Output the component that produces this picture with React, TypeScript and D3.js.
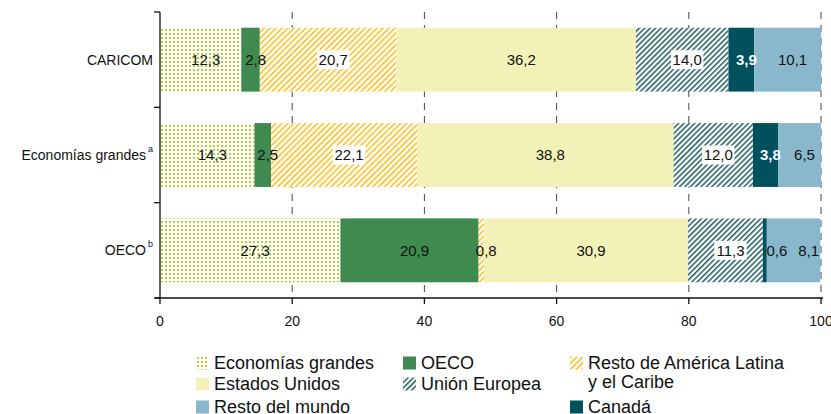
import React from "react";
import * as d3 from "d3";

const categories = ["CARICOM", "Economías grandes", "OECO"];
const categorySup = ["", "a", "b"];
const seriesNames = [
  "Economías grandes",
  "OECO",
  "Resto de América Latina y el Caribe",
  "Estados Unidos",
  "Unión Europea",
  "Canadá",
  "Resto del mundo",
];
const caricomValues = [12.3, 2.8, 20.7, 36.2, 14.0, 3.9, 10.1];
const grandesValues = [14.3, 2.5, 22.1, 38.8, 12.0, 3.8, 6.5];
const oecoValues = [27.3, 20.9, 0.8, 30.9, 11.3, 0.6, 8.1];
const xTicks = [0, 20, 40, 60, 80, 100];

const W = 831;
const H = 414;

const fills = [
  "url(#dots)",
  "#3e8a4f",
  "url(#yellowStripes)",
  "#f2f2b8",
  "url(#tealStripes)",
  "#00505e",
  "#89b8cc",
];
const boxed = [false, false, true, false, true, false, false];

export default function App() {
  const rows = [caricomValues, grandesValues, oecoValues];
  const x = d3.scaleLinear().domain([0, 100]).range([160, 821]);
  const y = d3
    .scaleBand<string>()
    .domain(categories)
    .range([12, 298])
    .paddingInner(0.33)
    .paddingOuter(0.165);
  const bw = y.bandwidth();
  const font = "'Liberation Sans', Arial, sans-serif";

  const legendItems = [
    { s: 0, x: 196, y: 363, lines: ["Economías grandes"] },
    { s: 1, x: 403, y: 363, lines: ["OECO"] },
    { s: 2, x: 570, y: 363, lines: ["Resto de América Latina", "y el Caribe"] },
    { s: 3, x: 196, y: 384, lines: ["Estados Unidos"] },
    { s: 4, x: 403, y: 384, lines: ["Unión Europea"] },
    { s: 6, x: 196, y: 407, lines: ["Resto del mundo"] },
    { s: 5, x: 570, y: 407, lines: ["Canadá"] },
  ];

  const extraDx = (ri: number, si: number) => {
    if (ri === 2 && si === 5) return 7;
    if (ri === 2 && si === 6) return 10;
    return 0;
  };

  const bandEdges = [12, ...categories.map((c) => (y(c) as number) + bw + (y.step() - bw) / 2)];

  return (
    <svg width={W} height={H} style={{ position: "absolute", left: 0, top: 0, fontFamily: font }}>
      <defs>
        <pattern id="dots" width={4} height={4} patternUnits="userSpaceOnUse">
          <rect width={4} height={4} fill="#fff" />
          <rect x={1} y={1} width={2} height={2} fill="#b2d12e" />
        </pattern>
        <pattern id="yellowStripes" width={4.2} height={4.2} patternUnits="userSpaceOnUse" patternTransform="rotate(45)">
          <rect width={4.2} height={4.2} fill="#fff" />
          <rect x={0} y={0} width={1.8} height={4.2} fill="#fcc73a" />
        </pattern>
        <pattern id="tealStripes" width={3.8} height={3.8} patternUnits="userSpaceOnUse" patternTransform="rotate(45)">
          <rect width={3.8} height={3.8} fill="#fff" />
          <rect x={0} y={0} width={1.5} height={3.8} fill="#1d5c5c" />
        </pattern>
      </defs>

      {/* gridlines */}
      {xTicks.slice(1).map((t) => (
        <line key={t} x1={x(t)} x2={x(t)} y1={12} y2={298} stroke="#444" strokeWidth={1} strokeDasharray="7,6" />
      ))}

      {/* bars */}
      {rows.map((vals, ri) => {
        const cat = categories[ri];
        const y0 = y(cat) as number;
        let cum = 0;
        return (
          <g key={cat}>
            {vals.map((v, si) => {
              const start = cum;
              cum += v;
              return (
                <rect key={si} x={x(start)} y={y0} width={x(start + v) - x(start)} height={bw} fill={fills[si]} />
              );
            })}
          </g>
        );
      })}

      {/* labels */}
      {rows.map((vals, ri) => {
        const cat = categories[ri];
        const cy = (y(cat) as number) + bw / 2;
        let cum = 0;
        return (
          <g key={cat + "l"}>
            {vals.map((v, si) => {
              const start = cum;
              cum += v;
              const cx = x(start + v / 2) + 5 + extraDx(ri, si);
              const txt = d3.format(".1f")(v).replace(".", ",");
              const tw = txt.length * 8.1 - 2;
              const segW = x(start + v) - x(start);
              const showBox = boxed[si] && segW > tw + 4;
              const white = si === 5 && v > 2;
              return (
                <g key={si}>
                  {showBox && <rect x={cx - tw / 2 - 1} y={cy - 9.5} width={tw + 2} height={19} fill="#fff" />}
                  <text
                    x={cx}
                    y={cy}
                    dy="0.36em"
                    textAnchor="middle"
                    fontSize={15}
                    fill={white ? "#fff" : "#111"}
                    fontWeight={white ? "bold" : "normal"}
                  >
                    {txt}
                  </text>
                </g>
              );
            })}
          </g>
        );
      })}

      {/* y axis */}
      <line x1={160} x2={160} y1={12} y2={298} stroke="#111" strokeWidth={1.3} />
      {bandEdges.map((e, i) => (
        <line key={i} x1={154} x2={160} y1={e} y2={e} stroke="#111" strokeWidth={1.3} />
      ))}
      {categories.map((c, i) => (
        <text
          key={c}
          x={categorySup[i] ? 146 : 153}
          y={(y(c) as number) + bw / 2}
          dy="0.36em"
          textAnchor="end"
          fontSize={14}
          fill="#111"
        >
          {c}
        </text>
      ))}
      {categories.map((c, i) =>
        categorySup[i] ? (
          <text key={c + "s"} x={148} y={(y(c) as number) + bw / 2 - 3} fontSize={9} fill="#111">
            {categorySup[i]}
          </text>
        ) : null
      )}

      {/* x axis */}
      <line x1={155} x2={823} y1={298} y2={298} stroke="#111" strokeWidth={1.3} />
      {xTicks.map((t) => (
        <g key={t}>
          <line x1={x(t)} x2={x(t)} y1={298} y2={304} stroke="#111" strokeWidth={1.3} />
          <text x={x(t)} y={326} textAnchor="middle" fontSize={14} fill="#111">
            {t}
          </text>
        </g>
      ))}

      {/* legend */}
      {legendItems.map((it) => (
        <g key={it.s}>
          <rect x={it.x} y={it.y - 6.5} width={13} height={13} fill={fills[it.s]} />
          {it.lines.map((ln, li) => (
            <text key={li} x={it.x + 18} y={it.y + li * 19} dy="0.36em" fontSize={18} fill="#111">
              {ln}
            </text>
          ))}
        </g>
      ))}
    </svg>
  );
}
